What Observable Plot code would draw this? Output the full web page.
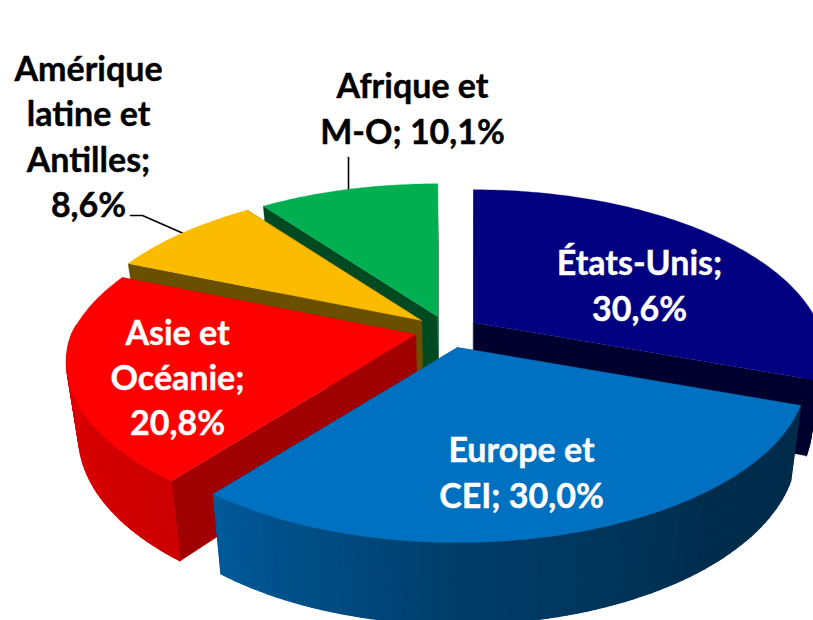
<!DOCTYPE html>
<html><head><meta charset="utf-8">
<style>html,body{margin:0;padding:0;background:#fff}svg{display:block}</style>
<script src="https://cdn.jsdelivr.net/npm/d3@7"></script>
<script src="https://cdn.jsdelivr.net/npm/@observablehq/plot@0.6"></script>
</head><body><div id="chart"></div><script>
const regions = ["États-Unis", "Europe et CEI", "Asie et Océanie", "Amérique latine et Antilles", "Afrique et M-O"];
const shares = [30.6, 30.0, 20.8, 8.6, 10.1];
const topColors = ["#000080", "#0070C0", "#FF0000", "#FBBC00", "#00B050"];
const sideColors = ["#00002E", "#00355C", "#A00000", "#6B4F00", "#004A22"];
const labelTexts = ["États-Unis;\n30,6%", "Europe et\nCEI; 30,0%", "Asie et\nOcéanie;\n20,8%", "Amérique\nlatine et\nAntilles;\n8,6%", "Afrique et\nM-O; 10,1%"];
const labelColors = ["#fff", "#fff", "#fff", "#000", "#000"];

// Layout of the exploded 3D pie
const apexes = [[473, 322], [457, 347], [415, 334], [421, 320], [437, 316]];
const labelX = [639, 521, 177, 88, 412];
const labelY = [283, 470, 375, 134, 106];
const R = 344, B = 158, K = 0.19, VX = 470;
const rad = Math.PI / 180;

const arcs = d3.pie().sort(null).value(d => d)(shares);
const project = (i, deg, bottom) => {
  const [ax, ay] = apexes[i];
  const u = Math.sin(deg * rad), v = -Math.cos(deg * rad);
  const s = 1 / (1 - K * v), sx = 1 / (1 - (v < 0 ? 0.21 : 0.17) * v);
  const x = ax + R * u * sx, y = ay + B * v * s;
  return bottom ? {x: VX + (x - VX) * 0.97, y: y + 72 + 10 * v} : {x, y};
};
const apexPoint = (i, bottom) => bottom
  ? {x: VX + (apexes[i][0] - VX) * 0.97, y: apexes[i][1] + 72}
  : {x: apexes[i][0], y: apexes[i][1]};
const shade = d3.scaleLinear().domain([110, 140, 180, 218, 270, 293]).range([0.38, 0.40, 0.55, 0.80, 0.88, 0.88]).clamp(true);
const scaled = (c, f) => { const r = d3.rgb(c); return d3.rgb(r.r * f, r.g * f, r.b * f).formatHex(); };

const polys = [];
let pid = 0;
const addPoly = (pts, color, sw) => { pid++; for (const p of pts) polys.push({...p, id: pid, color, sw}); };
for (const i of [4, 3, 0, 2, 1]) {
  const a0 = arcs[i].startAngle / rad, a1 = arcs[i].endAngle / rad;
  // radial side walls
  for (const a of [a0, a1]) {
    addPoly([apexPoint(i, false), project(i, a, false), project(i, a, true), apexPoint(i, true)], sideColors[i], 0.3);
  }
  // outer rim wall (only the part turned toward the viewer)
  const step = 1.5;
  for (let a = a0; a < a1; a += step) {
    const b = Math.min(a + step, a1);
    if (Math.cos(((a + b) / 2) * rad) > 0.05) continue;
    addPoly([project(i, a, false), project(i, b, false), project(i, b, true), project(i, a, true)],
      scaled(topColors[i], shade((a + b) / 2)), 1.2);
  }
  // top face
  const pts = [apexPoint(i, false)];
  for (let a = a0; a < a1; a += 1) pts.push(project(i, a, false));
  pts.push(project(i, a1, false));
  addPoly(pts, topColors[i], 0.3);
}

const leaderA = [{x: 348, y: 157}, {x: 348, y: 189}];
const leaderB = [{x: 130, y: 215}, {x: 142, y: 215}, {x: 183, y: 233}];
const labels = labelTexts.map((t, i) => ({t, x: labelX[i], y: labelY[i], c: labelColors[i]}));

const plot = Plot.plot({
  width: 813, height: 620, margin: 0,
  x: {domain: [0, 813], range: [0, 813], axis: null},
  y: {domain: [0, 620], range: [0, 620], axis: null},
  marks: [
    Plot.line(leaderA, {x: "x", y: "y", stroke: "#000", strokeWidth: 1.6}),
    Plot.line(leaderB, {x: "x", y: "y", stroke: "#000", strokeWidth: 1.6}),
    Plot.line(polys, {x: "x", y: "y", z: "id", fill: "color", stroke: "color", strokeWidth: "sw", curve: "linear-closed"}),
    Plot.text(labels, {x: "x", y: "y", text: "t", fill: "c", stroke: "c", strokeWidth: 0.4, fontSize: 34, fontWeight: 700, fontFamily: "Lato", lineHeight: 1.33, textAnchor: "middle"})
  ]
});
document.getElementById("chart").append(plot);
</script></body></html>
